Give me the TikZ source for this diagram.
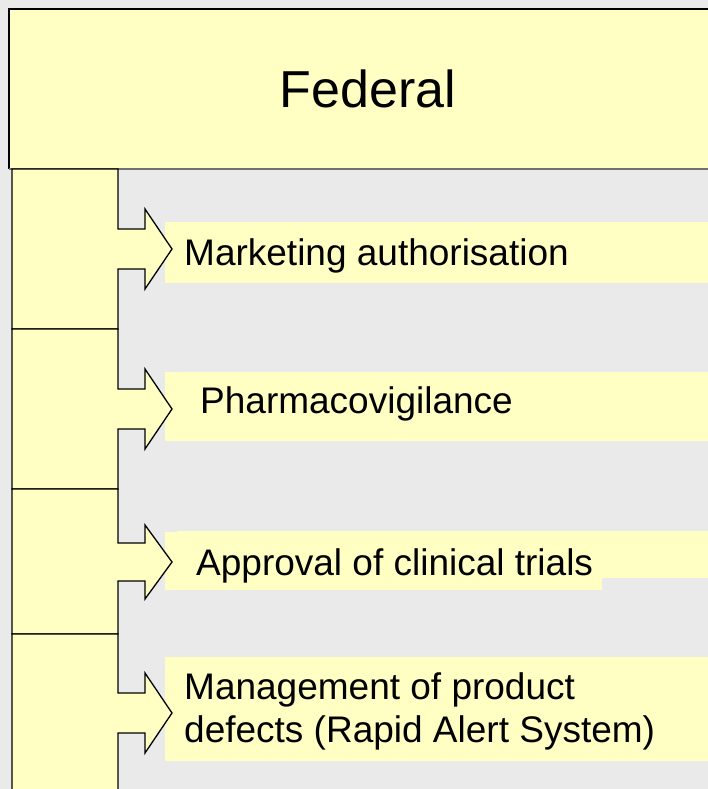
\documentclass[tikz,border=0pt]{standalone}
\usepackage{fontspec}
\setmainfont{Liberation Sans}
\definecolor{bgc}{HTML}{EAEAEA}
\definecolor{yel}{HTML}{FFFFC4}
\definecolor{rulegray}{HTML}{707070}
\begin{document}
\begin{tikzpicture}[x=1pt,y=-1pt,
  colseg/.style={fill=yel,draw=black,line width=1.3pt,line join=miter},
  itembox/.style={fill=yel,draw=none},
  itemtext/.style={inner sep=0pt,anchor=base west,font=\fontsize{37}{43}\selectfont},
  titletext/.style={inner sep=0pt,anchor=base,font=\fontsize{52}{60}\selectfont}]
\useasboundingbox (0,0) rectangle (708,789);
\clip (0,0) rectangle (708,789);
\fill[bgc] (0,0) rectangle (708,789);
% Federal header
\fill[yel] (9,9) rectangle (720,169);
\draw[black,line width=1.2pt] (720,9) -- (9,9) -- (9,169);
\draw[rulegray,line width=1.2pt] (9,169) -- (720,169);
\node[titletext] (fed) at (368,108) {Federal};
% item boxes
\fill[itembox] (165,222) rectangle (720,283);
\fill[itembox] (165,372) rectangle (720,441);
\fill[itembox] (165,532) rectangle (602,590);
\fill[itembox] (177,531) rectangle (720,578);
\fill[itembox] (165,657) rectangle (720,761);
% column segments with arrows
\newcommand{\colsegment}[5]{% top, bottom, tip y, head half, shaft half
  \draw[colseg] (12,#1) -- (118,#1) -- (118,#3-#5) -- (145,#3-#5) -- (145,#3-#4)
    -- (172,#3) -- (145,#3+#4) -- (145,#3+#5) -- (118,#3+#5) -- (118,#2) -- (12,#2) -- cycle;}
\colsegment{169}{329}{249}{40}{20}
\colsegment{329}{489}{409}{40}{20}
\colsegment{489}{634}{562}{37}{19}
\colsegment{634}{795}{713}{40}{20}
% item texts
\node[itemtext] (t1) at (184,265) {Marketing authorisation};
\node[itemtext] (t2) at (200,413) {Pharmacovigilance};
\node[itemtext] (t3) at (196,575) {Approval of clinical trials};
\node[itemtext] (t4a) at (184,699) {Management of product};
\node[itemtext] (t4b) at (184,742) {defects (Rapid Alert System)};
\end{tikzpicture}
\end{document}
